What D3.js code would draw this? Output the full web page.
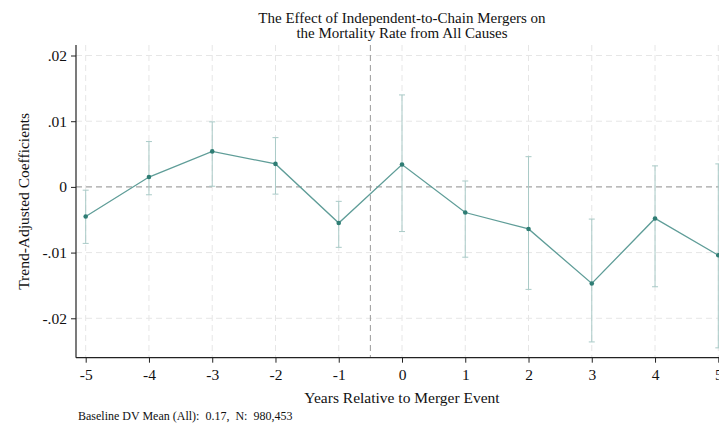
<!DOCTYPE html>
<html>
<head>
<meta charset="utf-8">
<script src="https://cdn.jsdelivr.net/npm/d3@7"></script>
<style>
  html, body { margin: 0; padding: 0; background: #fff; }
  svg { display: block; font-family: "Liberation Serif", "Times New Roman", serif; }
</style>
</head>
<body>
<svg id="chart" width="719" height="425"></svg>
<script>
// ---- Data ----
const years = [-5, -4, -3, -2, -1, 0, 1, 2, 3, 4, 5];
const coef  = [-0.0045, 0.0015, 0.0054, 0.0035, -0.0055, 0.0034, -0.0039, -0.0064, -0.0147, -0.0048, -0.0104];
const ciLow = [-0.0086, -0.0012, 0.0001, -0.0011, -0.0092, -0.0068, -0.0107, -0.0156, -0.0236, -0.0152, -0.0245];
const ciHigh= [-0.0005, 0.0069, 0.0099, 0.0075, -0.0022, 0.0140, 0.0009, 0.0046, -0.0049, 0.0032, 0.0035];
const yTicks = [-0.02, -0.01, 0, 0.01, 0.02];
const yTickLabels = ["-.02", "-.01", "0", ".01", ".02"];
const xTicks = years;
const xTickLabels = ["-5", "-4", "-3", "-2", "-1", "0", "1", "2", "3", "4", "5"];
const titleLines = ["The Effect of Independent-to-Chain Mergers on", "the Mortality Rate from All Causes"];
const xTitle = "Years Relative to Merger Event";
const yTitle = "Trend-Adjusted Coefficients";
const note = "Baseline DV Mean (All):  0.17,  N:  980,453";
const eventLine = -0.5;

const data = years.map((yr, i) => ({ year: yr, b: coef[i], lo: ciLow[i], hi: ciHigh[i] }));

// ---- Layout ----
const svg = d3.select("#chart");
const pLeft = 76, pTop = 45, pBottom = 357.7, pRight = 719;
const x = d3.scaleLinear().domain([-5, 5]).range([85.7, 718.3]);
const y = d3.scaleLinear().domain([-0.026, 0.0216]).range([pBottom, pTop]);

const gridColor = "#e6e6e6";
const lineColor = "#5f9d98";
const dotColor = "#2f7d74";
const ciColor = "#a9cac7";
const fs = 15.5;

// Grid
svg.append("g").selectAll("line").data(yTicks).join("line")
  .attr("x1", pLeft).attr("x2", pRight)
  .attr("y1", d => y(d)).attr("y2", d => y(d))
  .attr("stroke", gridColor).attr("stroke-width", 1).attr("stroke-dasharray", "6,4");
svg.append("g").selectAll("line").data(xTicks).join("line")
  .attr("x1", d => x(d)).attr("x2", d => x(d))
  .attr("y1", pTop).attr("y2", pBottom)
  .attr("stroke", gridColor).attr("stroke-width", 1).attr("stroke-dasharray", "6,4");

// Zero line and event line
svg.append("line").attr("x1", pLeft).attr("x2", pRight)
  .attr("y1", y(0)).attr("y2", y(0))
  .attr("stroke", "#999").attr("stroke-width", 1).attr("stroke-dasharray", "6,4");
svg.append("line").attr("x1", x(eventLine)).attr("x2", x(eventLine))
  .attr("y1", pTop).attr("y2", pBottom)
  .attr("stroke", "#999").attr("stroke-width", 1).attr("stroke-dasharray", "6,4");

// Error bars
const eb = svg.append("g").attr("stroke", ciColor).attr("stroke-width", 1);
eb.append("g").selectAll("line").data(data).join("line")
  .attr("x1", d => x(d.year)).attr("x2", d => x(d.year))
  .attr("y1", d => y(d.lo)).attr("y2", d => y(d.hi));
eb.append("g").selectAll("line").data(data).join("line")
  .attr("x1", d => x(d.year) - 3).attr("x2", d => x(d.year) + 3)
  .attr("y1", d => y(d.lo)).attr("y2", d => y(d.lo));
eb.append("g").selectAll("line").data(data).join("line")
  .attr("x1", d => x(d.year) - 3).attr("x2", d => x(d.year) + 3)
  .attr("y1", d => y(d.hi)).attr("y2", d => y(d.hi));

// Series line
svg.append("path").datum(data)
  .attr("fill", "none").attr("stroke", lineColor).attr("stroke-width", 1.3)
  .attr("d", d3.line().x(d => x(d.year)).y(d => y(d.b)));
svg.append("g").selectAll("circle").data(data).join("circle")
  .attr("cx", d => x(d.year)).attr("cy", d => y(d.b)).attr("r", 2.3)
  .attr("fill", dotColor);

// Axes
const yAxis = d3.axisLeft(y).tickValues(yTicks).tickFormat((d, i) => yTickLabels[i]).tickSize(5).tickPadding(4);
const gy = svg.append("g").attr("transform", `translate(${pLeft},0)`).call(yAxis);
gy.select(".domain").remove();
gy.append("line").attr("x1", 0).attr("x2", 0).attr("y1", pTop).attr("y2", pBottom).attr("stroke", "#222").attr("stroke-width", 1.2);
gy.selectAll(".tick line").attr("stroke", "#222");
gy.selectAll(".tick text").attr("font-size", fs).attr("fill", "#111").attr("font-family", "Liberation Serif");

const xAxis = d3.axisBottom(x).tickValues(xTicks).tickFormat((d, i) => xTickLabels[i]).tickSize(5).tickPadding(6);
const gx = svg.append("g").attr("transform", `translate(0,${pBottom})`).call(xAxis);
gx.select(".domain").remove();
gx.append("line").attr("x1", pLeft).attr("x2", pRight).attr("y1", 0).attr("y2", 0).attr("stroke", "#222").attr("stroke-width", 1.2);
gx.selectAll(".tick line").attr("stroke", "#222");
gx.selectAll(".tick text").attr("font-size", fs).attr("fill", "#111").attr("font-family", "Liberation Serif");

// Titles (two separate lines)
svg.append("g").selectAll("text").data(titleLines).join("text")
  .attr("x", 402).attr("y", (d, i) => 22.5 + i * 15.5)
  .attr("text-anchor", "middle").attr("font-size", 15).attr("fill", "#111")
  .text(d => d);

svg.append("text").attr("x", 402).attr("y", 403).attr("text-anchor", "middle")
  .attr("font-size", fs).attr("fill", "#111").text(xTitle);

svg.append("text").attr("transform", `translate(29,${(pTop + pBottom) / 2}) rotate(-90)`)
  .attr("text-anchor", "middle").attr("font-size", fs).attr("fill", "#111").text(yTitle);

svg.append("text").attr("x", 78).attr("y", 420).attr("font-size", 12).attr("fill", "#111")
  .style("white-space", "pre").text(note);
</script>
</body>
</html>
